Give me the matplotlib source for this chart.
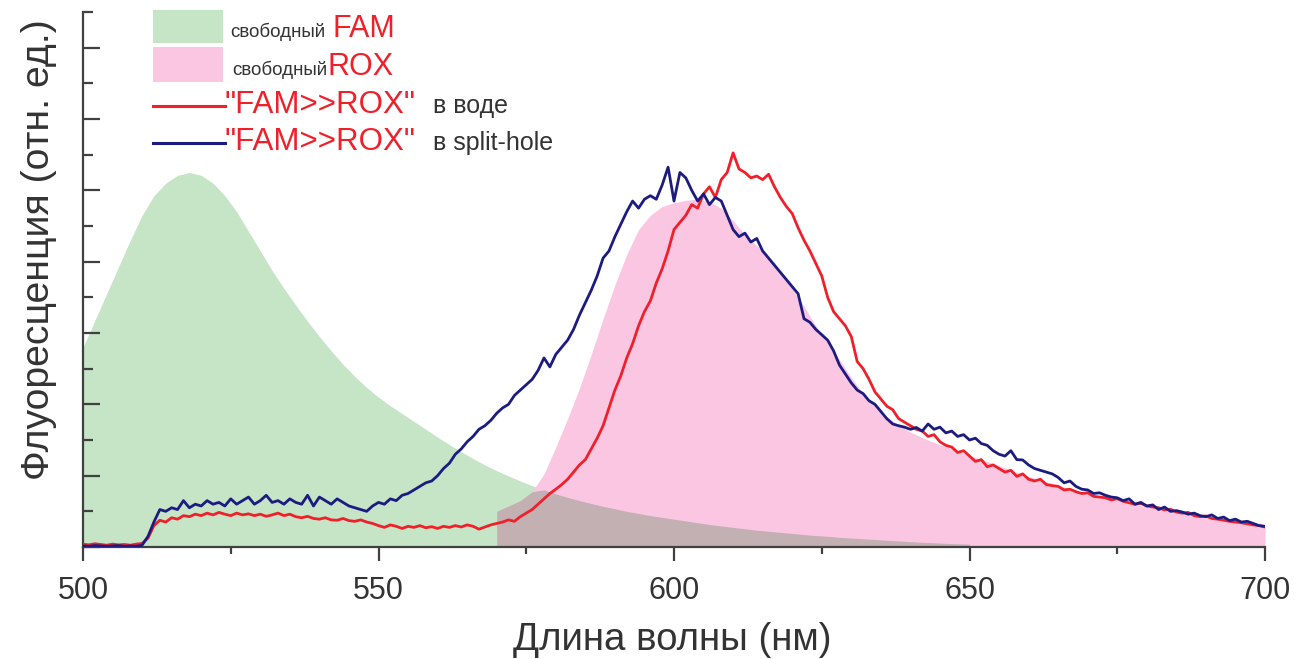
import numpy as np
import matplotlib
matplotlib.use("Agg")
import matplotlib.pyplot as plt
from matplotlib.patches import Rectangle
from matplotlib.lines import Line2D

plt.rcParams['font.family'] = ['Liberation Sans', 'DejaVu Sans']

# ---------------- data ----------------
fam_wl = list(range(500, 652, 2))
fam_val = [5.6, 6.35, 7.1, 7.85, 8.6, 9.3, 9.85, 10.2, 10.42, 10.5,
           10.42, 10.2, 9.85, 9.4, 8.85, 8.3, 7.75, 7.25, 6.78, 6.33,
           5.9, 5.5, 5.12, 4.78, 4.47, 4.2, 3.96, 3.74, 3.52, 3.3,
           3.08, 2.87, 2.67, 2.48, 2.3, 2.14, 1.99, 1.85, 1.72, 1.6,
           1.49, 1.39, 1.3, 1.22, 1.14, 1.07, 1.0, 0.94, 0.88, 0.83,
           0.78, 0.73, 0.68, 0.63, 0.59, 0.55, 0.51, 0.47, 0.44, 0.41,
           0.38, 0.35, 0.32, 0.3, 0.27, 0.25, 0.23, 0.21, 0.19, 0.17,
           0.15, 0.13, 0.12, 0.1, 0.09, 0.08]

rox_wl = list(range(570, 702, 2))
rox_val = [1.0, 1.15, 1.3, 1.55, 2.05, 2.8, 3.6, 4.45, 5.4, 6.4,
           7.35, 8.2, 8.9, 9.3, 9.55, 9.65, 9.72, 9.75, 9.68, 9.5,
           9.15, 8.75, 8.45, 8.15, 7.75, 7.25, 6.75, 6.2, 5.75, 5.25,
           4.75, 4.3, 3.95, 3.65, 3.42, 3.22, 3.07, 2.93, 2.81, 2.69,
           2.57, 2.45, 2.34, 2.22, 2.1, 1.98, 1.88, 1.78, 1.68, 1.58,
           1.49, 1.41, 1.33, 1.26, 1.19, 1.12, 1.06, 1.0, 0.94, 0.88,
           0.82, 0.77, 0.72, 0.67, 0.62, 0.57]

line_wl = list(range(500, 701))
water_val = [0.08, 0.06, 0.09, 0.07, 0.05, 0.08, 0.06, 0.07, 0.05, 0.08,
             0.1, 0.25, 0.6, 0.75, 0.7, 0.82, 0.78, 0.88, 0.85, 0.92,
             0.88, 0.95, 0.9, 0.97, 0.92, 0.88, 0.95, 0.9, 0.93, 0.88,
             0.92, 0.86, 0.9, 0.95, 0.88, 0.92, 0.85, 0.82, 0.86, 0.8,
             0.78, 0.82, 0.76, 0.75, 0.8, 0.74, 0.72, 0.76, 0.7, 0.66,
             0.6, 0.55, 0.62, 0.58, 0.52, 0.58, 0.55, 0.6, 0.54, 0.57,
             0.52, 0.58, 0.55, 0.6, 0.56, 0.62, 0.58, 0.5, 0.56, 0.62,
             0.66, 0.7, 0.76, 0.72, 0.85, 0.95, 1.05, 1.2, 1.35, 1.5,
             1.62, 1.75, 1.9, 2.1, 2.3, 2.45, 2.75, 3.05, 3.4, 3.9,
             4.4, 4.8, 5.3, 5.7, 6.2, 6.6, 6.9, 7.4, 7.8, 8.3,
             8.9, 9.1, 9.3, 9.6, 9.5, 9.9, 10.1, 9.8, 10.3, 10.5,
             11.05, 10.6, 10.5, 10.35, 10.4, 10.3, 10.45, 10.1, 9.8, 9.55,
             9.35, 8.95, 8.6, 8.3, 7.95, 7.6, 7.0, 6.6, 6.4, 6.2,
             5.9, 5.2, 5.0, 4.7, 4.35, 4.15, 3.95, 3.85, 3.6, 3.5,
             3.4, 3.3, 3.25, 3.1, 3.15, 2.95, 2.85, 2.8, 2.65, 2.7,
             2.55, 2.4, 2.45, 2.25, 2.3, 2.2, 2.1, 2.15, 1.98, 2.05,
             1.9, 1.85, 1.9, 1.75, 1.72, 1.7, 1.6, 1.62, 1.55, 1.5,
             1.52, 1.42, 1.4, 1.38, 1.32, 1.35, 1.28, 1.24, 1.2, 1.22,
             1.15, 1.12, 1.1, 1.04, 1.06, 0.98, 0.95, 0.97, 0.88, 0.85,
             0.87, 0.8, 0.78, 0.75, 0.72, 0.7, 0.68, 0.65, 0.62, 0.6,
             0.56]

split_val = [0.03, 0.02, 0.04, 0.03, 0.02, 0.03, 0.04, 0.02, 0.03, 0.02,
             0.05, 0.3, 0.7, 1.05, 1.0, 1.1, 1.05, 1.3, 1.1, 1.2,
             1.15, 1.3, 1.2, 1.25, 1.15, 1.35, 1.2, 1.3, 1.4, 1.2,
             1.3, 1.45, 1.25, 1.3, 1.2, 1.35, 1.25, 1.2, 1.45, 1.15,
             1.4, 1.3, 1.2, 1.35, 1.25, 1.15, 1.1, 1.05, 1.0, 1.15,
             1.25, 1.2, 1.35, 1.3, 1.45, 1.5, 1.6, 1.7, 1.8, 1.85,
             2.0, 2.2, 2.35, 2.6, 2.75, 2.95, 3.1, 3.3, 3.4, 3.55,
             3.75, 3.9, 4.0, 4.25, 4.4, 4.55, 4.7, 4.95, 5.3, 5.05,
             5.4, 5.6, 5.8, 6.1, 6.5, 6.85, 7.2, 7.6, 8.1, 8.3,
             8.7, 9.05, 9.4, 9.7, 9.5, 9.75, 9.85, 9.75, 10.15, 10.65,
             9.7, 10.5, 10.35, 10.0, 9.7, 9.9, 9.6, 9.8, 9.7, 9.3,
             8.9, 8.7, 8.8, 8.55, 8.65, 8.3, 8.1, 7.9, 7.7, 7.5,
             7.3, 7.1, 6.4, 6.3, 6.1, 5.95, 5.8, 5.5, 5.1, 4.85,
             4.6, 4.4, 4.3, 4.1, 4.0, 3.8, 3.6, 3.45, 3.4, 3.36,
             3.3, 3.35, 3.25, 3.45, 3.3, 3.36, 3.2, 3.25, 3.1, 3.15,
             3.0, 3.05, 2.9, 2.85, 2.7, 2.6, 2.55, 2.7, 2.45, 2.44,
             2.3, 2.2, 2.15, 2.1, 2.05, 1.95, 1.8, 1.85, 1.7, 1.62,
             1.6, 1.5, 1.52, 1.45, 1.4, 1.38, 1.3, 1.35, 1.2, 1.25,
             1.15, 1.18, 1.05, 1.12, 1.0, 1.02, 0.98, 0.92, 0.95, 0.88,
             0.85, 0.9, 0.8, 0.84, 0.74, 0.78, 0.7, 0.72, 0.66, 0.6,
             0.58]

x_ticks = [500, 550, 600, 650, 700]

# ---------------- figure ----------------
W, H = 1296, 659
fig = plt.figure(figsize=(W / 100, H / 100), dpi=100)
ax = fig.add_axes([83 / W, 1 - 547 / H, (1265 - 83) / W, (547 - 12) / H])

GREEN = '#c6e4c6'
PINK = '#fac6e2'
GREY = '#c2b0b2'
RED = '#f0202a'
NAVY = '#1c1c80'
TXT = '#333333'

fam_x = np.array(fam_wl); fam_y = np.array(fam_val)
rox_x = np.array(rox_wl); rox_y = np.array(rox_val)
ax.fill_between(fam_x, 0, fam_y, color=GREEN, lw=0, zorder=1)
ax.fill_between(rox_x, 0, rox_y, color=PINK, lw=0, zorder=1)
common = np.intersect1d(fam_x, rox_x)
ov = np.minimum(fam_y[np.isin(fam_x, common)], rox_y[np.isin(rox_x, common)])
ax.fill_between(common, 0, ov, color=GREY, lw=0, zorder=2)

ax.plot(line_wl, water_val, color=RED, lw=2.0, zorder=3)
ax.plot(line_wl, split_val, color=NAVY, lw=2.0, zorder=4)

ax.set_xlim(500, 700)
ax.set_ylim(0, 15)
for s in ['top', 'right']:
    ax.spines[s].set_visible(False)
for s in ['left', 'bottom']:
    ax.spines[s].set_color('#404040')
    ax.spines[s].set_linewidth(1.6)

ax.set_xticks(x_ticks)
ax.set_xticks([525, 575, 625, 675], minor=True)
ax.set_yticks(np.arange(0, 16, 2))
ax.set_yticks(np.arange(1, 16, 2), minor=True)
ax.tick_params(axis='x', which='major', direction='out', length=10, width=1.6,
               color='#404040', labelsize=22, labelcolor=TXT, pad=11)
ax.tick_params(axis='x', which='minor', direction='out', length=5, width=1.6, color='#404040')
ax.tick_params(axis='y', which='major', direction='in', length=12, width=1.6,
               color='#404040', labelleft=False)
ax.tick_params(axis='y', which='minor', direction='in', length=7, width=1.6, color='#404040')

fig.text(672 / W, 1 - 640 / H, 'Длина волны (нм)', ha='center', va='center',
         fontsize=27.7, color=TXT)
fig.text(39 / W, 1 - 250 / H, 'Флуоресценция (отн. ед.)', ha='center', va='center',
         rotation=90, fontsize=28.3, color=TXT)

# ---------------- legend ----------------
def P(x, y):
    return (x / W, 1 - y / H)

fig.add_artist(Rectangle(P(153, 43), 70 / W, 33 / H, transform=fig.transFigure,
                         color=GREEN, lw=0))
fig.add_artist(Rectangle(P(153, 82), 70 / W, 35 / H, transform=fig.transFigure,
                         color=PINK, lw=0))
fig.add_artist(Line2D([153 / W, 225 / W], [1 - 106 / H] * 2, transform=fig.transFigure,
                      color=RED, lw=2.2))
fig.add_artist(Line2D([153 / W, 225 / W], [1 - 143 / H] * 2, transform=fig.transFigure,
                      color=NAVY, lw=2.2))

legend_rows = [
    [(230, 37, 'свободный', TXT, 13.5), (332, 37, 'FAM', RED, 22)],
    [(232, 75, 'свободный', TXT, 13.5), (327, 75, 'ROX', RED, 22)],
    [(225, 113, '"FAM>>ROX"', RED, 22.5), (433, 113, 'в воде', TXT, 18)],
    [(225, 150, '"FAM>>ROX"', RED, 22.5), (433, 150, 'в split-hole', TXT, 18)],
]
for row in legend_rows:
    for x, y, s, c, fs in row:
        fig.text(*P(x, y), s, color=c, fontsize=fs, va='baseline', ha='left')

fig.savefig('out.png', dpi=100)
